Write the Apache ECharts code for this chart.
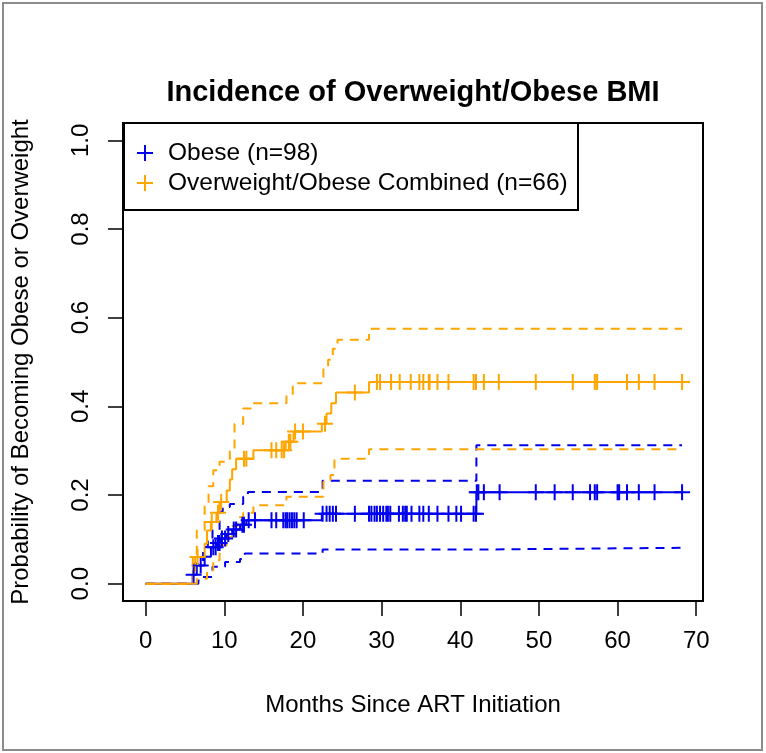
<!DOCTYPE html>
<html><head><meta charset="utf-8">
<script src="https://cdn.jsdelivr.net/npm/echarts@6/dist/echarts.min.js"></script>
<style>html,body{margin:0;padding:0;background:#fff}#c{width:766px;height:753px}</style>
</head><body><div id="c"></div>
<script>
// ---------- DATA ----------
const xTicks = [0, 10, 20, 30, 40, 50, 60, 70];
const yTicks = [0, 0.2, 0.4, 0.6, 0.8, 1.0];

// Obese (n=98): Kaplan-Meier cumulative incidence, step times / values
const obeseT   = [0, 6.0, 6.5, 7.5, 8.3, 9.0, 9.6, 10.3, 11.0, 12.0, 12.8, 22.4, 42.05, 68.2];
const obeseP   = [0, 0.02, 0.041, 0.061, 0.082, 0.092, 0.102, 0.112, 0.122, 0.133, 0.143, 0.158, 0.206, 0.206];
const obeseUpT = [0, 6.0, 7.3, 7.9, 8.5, 9.4, 9.8, 10.7, 12.4, 13.0, 22.5, 42.05, 68.2];
const obeseUpP = [0, 0.045, 0.083, 0.098, 0.12, 0.162, 0.173, 0.18, 0.196, 0.207, 0.232, 0.312, 0.312];
const obeseLoT = [0, 6.7, 7.1, 8.5, 10.1, 12.0, 12.6, 22.5, 42.05, 68.2];
const obeseLoP = [0, 0.007, 0.015, 0.038, 0.049, 0.056, 0.068, 0.077, 0.081, 0.081];
const obeseCensor = [6.1, 7.0, 8.6, 8.9, 9.2, 9.4, 9.7, 10.1, 10.5, 11.2, 11.5, 12.3, 12.5, 13.1, 13.9, 16.0, 16.6, 17.5, 17.8, 18.0, 18.3, 18.6, 18.9, 19.2, 20.1, 22.5, 23.0, 23.4, 23.8, 24.2, 26.6, 28.4, 28.7, 29.1, 29.4, 29.8, 30.2, 30.6, 30.8, 31.1, 32.2, 32.7, 33.0, 33.2, 33.8, 34.8, 35.3, 36.0, 37.1, 38.5, 39.5, 40.1, 41.7, 42.0, 42.1, 42.3, 43.0, 45.0, 49.6, 52.0, 54.3, 56.5, 57.1, 57.4, 60.0, 60.2, 61.2, 62.7, 64.7, 68.2];

// Overweight/Obese Combined (n=66)
const combT   = [0, 6.0, 6.3, 7.5, 7.8, 8.3, 9.0, 9.4, 10.3, 10.7, 11.0, 11.5, 13.7, 17.8, 18.8, 22.4, 23.0, 23.6, 24.2, 28.4, 68.2];
const combP   = [0, 0.03, 0.06, 0.09, 0.12, 0.139, 0.16, 0.184, 0.21, 0.235, 0.258, 0.282, 0.301, 0.32, 0.343, 0.361, 0.384, 0.407, 0.431, 0.455, 0.455];
const combUpT = [0, 6.0, 6.5, 7.5, 8.0, 8.6, 9.4, 10.7, 11.3, 12.4, 13.6, 17.9, 18.7, 22.6, 23.2, 23.8, 24.4, 28.4, 68.2];
const combUpP = [0, 0.06, 0.12, 0.18, 0.22, 0.256, 0.275, 0.30, 0.36, 0.395, 0.407, 0.425, 0.452, 0.49, 0.505, 0.53, 0.55, 0.575, 0.575];
const combLoT = [0, 6.5, 7.8, 8.6, 9.4, 10.3, 11.0, 11.7, 12.4, 13.7, 17.9, 22.6, 23.5, 24.0, 28.4, 68.2];
const combLoP = [0, 0.011, 0.03, 0.053, 0.087, 0.105, 0.13, 0.15, 0.16, 0.177, 0.196, 0.23, 0.245, 0.282, 0.303, 0.303];
const combCensor = [6.6, 8.4, 9.2, 9.6, 12.5, 12.8, 16.0, 16.6, 17.3, 17.6, 18.2, 18.4, 19.0, 20.0, 22.8, 26.6, 29.4, 29.8, 31.2, 32.3, 33.7, 34.8, 35.3, 36.0, 36.1, 37.1, 38.5, 41.7, 42.0, 43.0, 44.9, 49.6, 54.3, 57.1, 57.4, 61.2, 62.7, 64.7, 68.2];

const titleText = 'Incidence of Overweight/Obese BMI';
const xName = 'Months Since ART Initiation';
const yName = 'Probability of Becoming Obese or Overweight';
const legendNames = ['Obese (n=98)', 'Overweight/Obese Combined (n=66)'];

// ---------- helpers ----------
const BLUE = '#0000ee', ORANGE = '#ffa500';
const FONT = '"Liberation Sans", Arial, Helvetica, sans-serif';
const zip = (t, p) => t.map((v, i) => [v, p[i]]);
function stepAt(t, T, P) { let v = P[0]; for (let i = 0; i < T.length; i++) { if (T[i] <= t) v = P[i]; } return v; }
const PLUS = 'path://M-1,-8L1,-8L1,8L-1,8Z M-8,-1L8,-1L8,1L-8,1Z';

function stepLine(name, T, P, color, dashed) {
  return { name, type: 'line', step: 'end', data: zip(T, P), symbol: 'none', silent: true,
    lineStyle: { color, width: 2, type: dashed ? [9, 7] : 'solid' }, z: 2 };
}
function marks(name, C, T, P, color) {
  return { name, type: 'scatter', data: C.map(t => [t, stepAt(t, T, P)]), symbol: PLUS, symbolSize: 16,
    itemStyle: { color, opacity: 1 }, silent: true, z: 3 };
}
function plusGraphic(cx, cy, color) {
  return [
    { type: 'line', shape: { x1: cx - 8, y1: cy, x2: cx + 8, y2: cy }, style: { stroke: color, lineWidth: 2 }, z: 11 },
    { type: 'line', shape: { x1: cx, y1: cy - 8, x2: cx, y2: cy + 8 }, style: { stroke: color, lineWidth: 2 }, z: 11 }
  ];
}

const chart = echarts.init(document.getElementById('c'), null, { renderer: 'canvas' });
chart.setOption({
  animation: false,
  backgroundColor: '#fff',
  grid: { left: 123, right: 63, top: 123, bottom: 152, show: true, borderColor: '#000', borderWidth: 2, backgroundColor: 'transparent' },
  xAxis: {
    type: 'value', min: -2.88, max: 70.86,
    axisLine: { show: false, onZero: false }, splitLine: { show: false },
    axisTick: { show: true, length: 15, lineStyle: { color: '#000', width: 1.5 }, customValues: xTicks },
    axisLabel: { customValues: xTicks, margin: 28, fontSize: 24, color: '#000', fontFamily: FONT },
    name: xName, nameLocation: 'middle', nameGap: 92,
    nameTextStyle: { fontSize: 24, color: '#000', fontFamily: FONT }
  },
  yAxis: {
    type: 'value', min: -0.039, max: 1.039,
    axisLine: { show: false, onZero: false }, splitLine: { show: false },
    axisTick: { show: true, length: 15, lineStyle: { color: '#000', width: 1.5 }, customValues: yTicks },
    axisLabel: { customValues: yTicks, rotate: 90, margin: 30, fontSize: 24, color: '#000', fontFamily: FONT,
      formatter: v => Number(v).toFixed(1) },
    name: yName, nameLocation: 'middle', nameGap: 90,
    nameTextStyle: { fontSize: 24, color: '#000', fontFamily: FONT }
  },
  series: [
    stepLine('obeseLo', obeseLoT, obeseLoP, BLUE, true),
    stepLine('obeseUp', obeseUpT, obeseUpP, BLUE, true),
    stepLine(legendNames[0], obeseT, obeseP, BLUE, false),
    marks(legendNames[0], obeseCensor, obeseT, obeseP, BLUE),
    stepLine('combLo', combLoT, combLoP, ORANGE, true),
    stepLine('combUp', combUpT, combUpP, ORANGE, true),
    stepLine(legendNames[1], combT, combP, ORANGE, false),
    marks(legendNames[1], combCensor, combT, combP, ORANGE)
  ],
  graphic: [
    { type: 'rect', shape: { x: 3, y: 3, width: 759, height: 747 }, style: { fill: 'none', stroke: '#8c8c8c', lineWidth: 2 }, z: 10 },
    { type: 'text', x: 413, y: 93, style: { text: titleText, font: 'bold 29px ' + FONT, fill: '#000', textAlign: 'center', textVerticalAlign: 'middle' }, z: 10 },
    { type: 'rect', shape: { x: 124, y: 123, width: 454, height: 87 }, style: { fill: '#fff', stroke: '#000', lineWidth: 2 }, z: 10 },
    ...plusGraphic(145, 153, BLUE),
    ...plusGraphic(145, 183, ORANGE),
    { type: 'text', x: 168, y: 153, style: { text: legendNames[0], font: '24.5px ' + FONT, fill: '#000', textVerticalAlign: 'middle' }, z: 11 },
    { type: 'text', x: 168, y: 183, style: { text: legendNames[1], font: '24.5px ' + FONT, fill: '#000', textVerticalAlign: 'middle' }, z: 11 }
  ]
});
</script>
</body></html>
